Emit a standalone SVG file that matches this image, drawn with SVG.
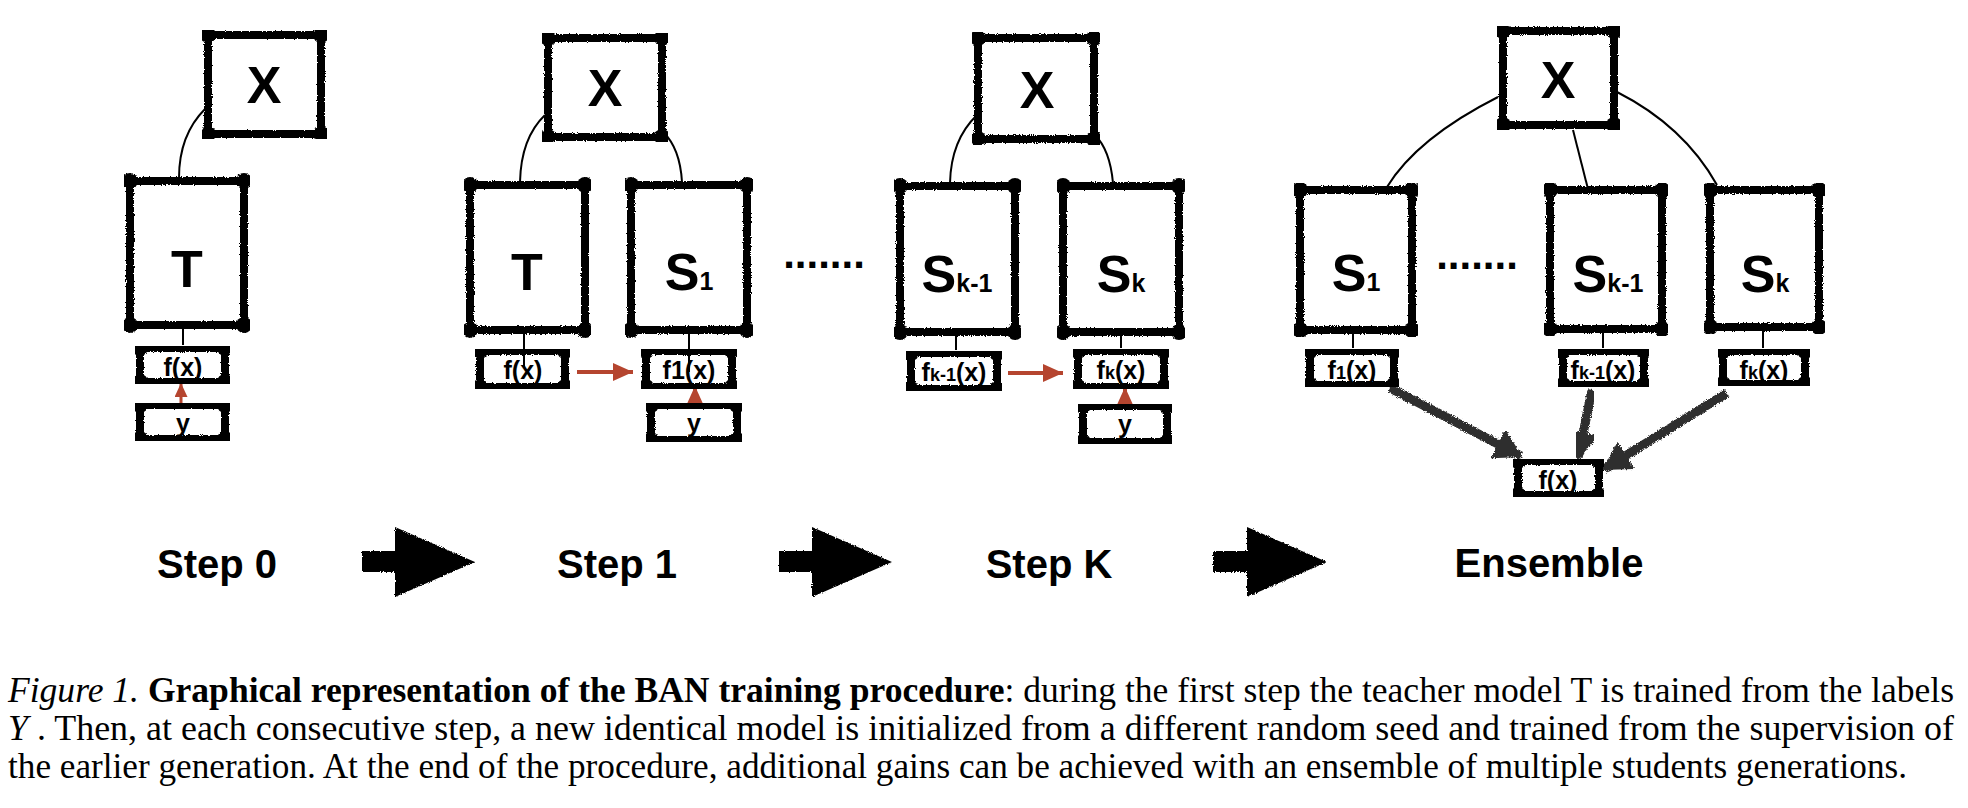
<svg xmlns="http://www.w3.org/2000/svg" width="1968" height="808" viewBox="0 0 1968 808">
<style>
.bx{fill:#fff;stroke:#000;stroke-width:8;stroke-linejoin:round;marker-start:url(#cor);marker-mid:url(#cor);filter:url(#rough)}
.big{font-family:"Liberation Sans",Arial,sans-serif;font-weight:bold;font-size:52px;text-anchor:middle;fill:#000}
.sub{font-size:25px}
.sm{font-family:"Liberation Sans",Arial,sans-serif;font-weight:bold;font-size:25px;text-anchor:middle;fill:#000}
.ssub{font-size:18px}
.dots{font-family:"Liberation Sans",Arial,sans-serif;font-weight:bold;font-size:42px;text-anchor:middle}
.step{font-family:"Liberation Sans",Arial,sans-serif;font-weight:bold;font-size:40px;text-anchor:middle}
.ln{fill:none;stroke:#000;stroke-width:2}
.red{fill:none;stroke:#B5452F;stroke-width:4}
.thick{fill:none;stroke:#2e2e2e;stroke-width:9;marker-end:url(#gh);filter:url(#grain)}
.cap{font-family:"Liberation Serif","Times New Roman",serif;font-size:35px;fill:#000}
</style>
<defs>
<marker id="cor" viewBox="-9 -9 18 18" markerWidth="18" markerHeight="18" markerUnits="userSpaceOnUse" refX="0" refY="0" orient="0"><circle r="8" fill="#000"/></marker>
<marker id="rh" viewBox="0 0 20 18" markerWidth="20" markerHeight="18" markerUnits="userSpaceOnUse" refX="20" refY="9" orient="auto"><path d="M0,0 L20,9 L0,18 Z" fill="#B5452F"/></marker>
<marker id="rhs" viewBox="0 0 14 13" markerWidth="14" markerHeight="13" markerUnits="userSpaceOnUse" refX="14" refY="6.5" orient="auto"><path d="M0,0 L14,6.5 L0,13 Z" fill="#B5452F"/></marker>
<marker id="gh" viewBox="0 0 28 32" markerWidth="28" markerHeight="32" markerUnits="userSpaceOnUse" refX="26" refY="16" orient="auto"><path d="M0,0 L28,16 L0,32 Z" fill="#2e2e2e"/></marker>
<filter id="rough" x="-5%" y="-5%" width="110%" height="110%"><feTurbulence type="fractalNoise" baseFrequency="0.9" numOctaves="2" seed="3" result="n"/><feDisplacementMap in="SourceGraphic" in2="n" scale="3" xChannelSelector="R" yChannelSelector="G"/></filter>
<filter id="grain" x="-10%" y="-10%" width="120%" height="120%"><feTurbulence type="fractalNoise" baseFrequency="1.2" numOctaves="2" seed="7" result="n"/><feDisplacementMap in="SourceGraphic" in2="n" scale="4" xChannelSelector="R" yChannelSelector="G"/></filter>
</defs>
<rect width="1968" height="808" fill="#fff"/>

<g id="connectors">
<path class="ln" d="M205,109 Q179,135 179,178"/>
<path class="ln" d="M545,115 Q521,138 520,182"/>
<path class="ln" d="M663,132 Q680,148 682,182"/>
<path class="ln" d="M977,115 Q951,140 950,183"/>
<path class="ln" d="M1095,135 Q1110,150 1113,183"/>
<path class="ln" d="M1498,97 Q1417,138 1387,187"/>
<path class="ln" d="M1573,130 L1590,197"/>
<path class="ln" d="M1617,92 Q1684,126 1717,185"/>
<path class="ln" d="M183,328 V345"/>
<path class="ln" d="M956,335 V350"/>
<path class="ln" d="M1121,335 V348"/>
<path class="ln" d="M1353,333 V348"/>
<path class="ln" d="M1603,332 V348"/>
<path class="ln" d="M1763,330 V348"/>
<path class="red" d="M577,372 H633" marker-end="url(#rh)"/>
<path class="red" d="M1008,373 H1063" marker-end="url(#rh)"/>
<path class="red" d="M181,403 V383" style="stroke-width:3" marker-end="url(#rhs)"/>
<path class="red" d="M695,405 V386" marker-end="url(#rh)"/>
<path class="red" d="M1125,406 V387" marker-end="url(#rh)"/>
<path class="thick" d="M1390,388 L1521,456"/>
<path class="thick" d="M1592,390 L1578,458"/>
<path class="thick" d="M1727,393 L1604,469"/>
</g>

<g id="step0">
<g id="s0-x"><path class="bx" d="M208,35 h113 v99 h-113 Z"/><text class="big" x="264" y="103">X</text></g>
<g id="s0-t"><path class="bx" d="M130,181 h114 v144 h-114 Z"/><text class="big" x="187" y="287">T</text></g>
<g id="s0-f"><path class="bx" d="M140,348 h85 v34 h-85 Z"/><text class="sm" x="183" y="376">f(x)</text></g>
<g id="s0-y"><path class="bx" d="M140,405 h85 v34 h-85 Z"/><text class="sm" x="183" y="432">y</text></g>
</g>

<g id="step1">
<g id="s1-x"><path class="bx" d="M548,38 h114 v99 h-114 Z"/><text class="big" x="605" y="106">X</text></g>
<g id="s1-t"><path class="bx" d="M470,185 h115 v145 h-115 Z"/><text class="big" x="527" y="290">T</text></g>
<g id="s1-s1"><path class="bx" d="M631,185 h116 v145 h-116 Z"/><text class="big" x="689" y="290">S<tspan class="sub">1</tspan></text></g>
<g id="s1-f"><path class="bx" d="M480,351 h85 v36 h-85 Z"/><text class="sm" x="523" y="379">f(x)</text></g>
<g id="s1-f1"><path class="bx" d="M646,351 h86 v36 h-86 Z"/><text class="sm" x="689" y="379">f1(x)</text></g>
<g id="s1-y"><path class="bx" d="M651,405 h86 v35 h-86 Z"/><text class="sm" x="694" y="432">y</text></g>
<path class="ln" d="M524,333 V368"/>
<path class="ln" d="M689,333 V372"/>
</g>

<text class="dots" x="824" y="268">.......</text>

<g id="stepK">
<g id="sk-x"><path class="bx" d="M978,38 h116 v101 h-116 Z"/><text class="big" x="1037" y="108">X</text></g>
<g id="sk-sk1"><path class="bx" d="M900,186 h115 v146 h-115 Z"/><text class="big" x="957" y="292">S<tspan class="sub">k-1</tspan></text></g>
<g id="sk-sk"><path class="bx" d="M1063,186 h116 v146 h-116 Z"/><text class="big" x="1121" y="292">S<tspan class="sub">k</tspan></text></g>
<g id="sk-fk1"><path class="bx" d="M911,353 h86 v36 h-86 Z"/><text class="sm" x="954" y="381">f<tspan class="ssub">k-1</tspan>(x)</text></g>
<g id="sk-fk"><path class="bx" d="M1078,351 h86 v36 h-86 Z"/><text class="sm" x="1121" y="379">f<tspan class="ssub">k</tspan>(x)</text></g>
<g id="sk-y"><path class="bx" d="M1083,406 h84 v36 h-84 Z"/><text class="sm" x="1125" y="433">y</text></g>
</g>

<g id="ensemble">
<g id="e-x"><path class="bx" d="M1503,31 h111 v94 h-111 Z"/><text class="big" x="1558" y="98">X</text></g>
<g id="e-s1"><path class="bx" d="M1300,190 h112 v140 h-112 Z"/><text class="big" x="1356" y="291">S<tspan class="sub">1</tspan></text></g>
<text class="dots" x="1477" y="269">.......</text>
<g id="e-sk1"><path class="bx" d="M1550,190 h112 v139 h-112 Z"/><text class="big" x="1608" y="292">S<tspan class="sub">k-1</tspan></text></g>
<g id="e-sk"><path class="bx" d="M1710,190 h109 v137 h-109 Z"/><text class="big" x="1765" y="292">S<tspan class="sub">k</tspan></text></g>
<g id="e-f1"><path class="bx" d="M1310,351 h84 v34 h-84 Z"/><text class="sm" x="1352" y="379">f<tspan class="ssub">1</tspan>(x)</text></g>
<g id="e-fk1"><path class="bx" d="M1563,351 h81 v34 h-81 Z"/><text class="sm" x="1603" y="379">f<tspan class="ssub">k-1</tspan>(x)</text></g>
<g id="e-fk"><path class="bx" d="M1723,351 h82 v33 h-82 Z"/><text class="sm" x="1764" y="379">f<tspan class="ssub">k</tspan>(x)</text></g>
<g id="e-f"><path class="bx" d="M1518,461 h81 v34 h-81 Z"/><text class="sm" x="1558" y="489">f(x)</text></g>
</g>

<g id="steps">
<text class="step" x="217" y="578">Step 0</text>
<text class="step" x="617" y="578">Step 1</text>
<text class="step" x="1049" y="578">Step K</text>
<text class="step" x="1549" y="577">Ensemble</text>
<g filter="url(#rough)" fill="#000">
<path d="M362,551 H395 V527 L475,562 L395,597 V572 H362 Z"/>
<path d="M779,551 H812 V527 L892,562 L812,597 V572 H779 Z"/>
<path d="M1213,551 H1247 V527 L1327,562 L1247,597 V572 H1213 Z"/>
</g>
</g>

<g id="caption">
<text class="cap" x="8" y="702" textLength="1946" lengthAdjust="spacingAndGlyphs"><tspan font-style="italic">Figure 1.</tspan> <tspan font-weight="bold">Graphical representation of the BAN training procedure</tspan>: during the first step the teacher model T is trained from the labels</text>
<text class="cap" x="8" y="740" textLength="1946" lengthAdjust="spacingAndGlyphs"><tspan font-style="italic">Y</tspan> . Then, at each consecutive step, a new identical model is initialized from a different random seed and trained from the supervision of</text>
<text class="cap" x="8" y="778" textLength="1899" lengthAdjust="spacingAndGlyphs">the earlier generation. At the end of the procedure, additional gains can be achieved with an ensemble of multiple students generations.</text>
</g>
</svg>
